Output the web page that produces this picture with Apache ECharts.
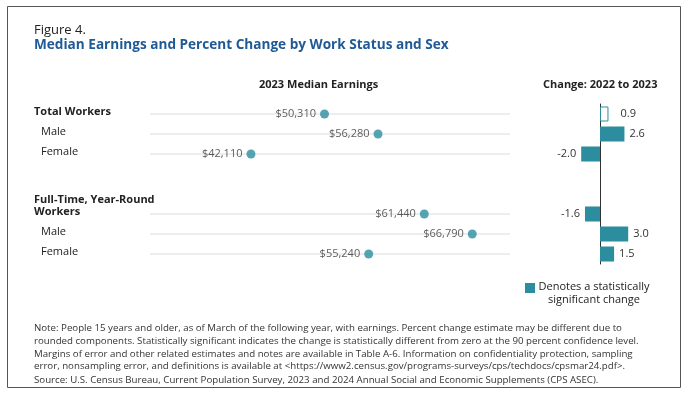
<!DOCTYPE html>
<html>
<head>
<meta charset="utf-8">
<script src="https://cdn.jsdelivr.net/npm/echarts@6/dist/echarts.min.js"></script>
<style>
html,body{margin:0;padding:0;background:#fff;}
#chart{width:688px;height:400px;}
</style>
</head>
<body>
<div id="chart"></div>
<script>
// ---- Data ----
const categories = ['Total Workers', 'Male', 'Female', '', ' ', 'Full-Time, Year-Round\nWorkers', 'Male', 'Female'];
const groupHeaders = [0, 5];
const earnings2023 = [50310, 56280, 42110, null, null, 61440, 66790, 55240];
const pctChange = [0.9, 2.6, -2.0, null, null, -1.6, 3.0, 1.5];
const significant = [false, true, true, null, null, true, true, true];

const TEAL = '#2b8d9d';
const FONT = '"Open Sans", "Noto Sans", sans-serif';

const chart = echarts.init(document.getElementById('chart'), null, {renderer: 'canvas'});

const dotData = earnings2023.map((v, i) => v == null ? null : [v, i]);
const lineData = earnings2023.map((v, i) => v == null ? null : [v, i]).filter(d => d);
const barData = pctChange.map((v, i) => {
  if (v == null) return null;
  const sig = significant[i];
  return {
    value: v,
    itemStyle: sig ? {color: TEAL} : {color: '#fff', borderColor: TEAL, borderWidth: 1},
    label: {position: v < 0 ? 'left' : 'right', distance: sig ? 5 : 12}
  };
});

const option = {
  animation: false,
  textStyle: {fontFamily: FONT},
  title: [
    {text: 'Figure 4.', left: 34, top: 24, padding: 0,
     textStyle: {fontFamily: FONT, fontSize: 13, fontWeight: 'normal', color: '#222'}},
    {text: 'Median Earnings and Percent Change by Work Status and Sex', left: 34, top: 38, padding: 0,
     textStyle: {fontFamily: FONT, fontSize: 13.6, fontWeight: 'bold', color: '#1f5a96'}},
    {text: '2023 Median Earnings', left: 259, top: 79, padding: 0,
     textStyle: {fontFamily: FONT, fontSize: 11, fontWeight: 'bold', color: '#222'}},
    {text: 'Change: 2022 to 2023', left: 543, top: 79, padding: 0,
     textStyle: {fontFamily: FONT, fontSize: 11, fontWeight: 'bold', color: '#222'}},
    {text: 'Note: People 15 years and older, as of March of the following year, with earnings. Percent change estimate may be different due to\nrounded components. Statistically significant indicates the change is statistically different from zero at the 90 percent confidence level.\nMargins of error and other related estimates and notes are available in Table A-6. Information on confidentiality protection, sampling\nerror, nonsampling error, and definitions is available at <https://www2.census.gov/programs-surveys/cps/techdocs/cpsmar24.pdf>.',
     left: 34, top: 322, padding: 0,
     textStyle: {fontFamily: FONT, fontSize: 9.7, fontWeight: 'normal', color: '#333', lineHeight: 12.7}},
    {text: 'Source: U.S. Census Bureau, Current Population Survey, 2023 and 2024 Annual Social and Economic Supplements (CPS ASEC).',
     left: 34, top: 375, padding: 0,
     textStyle: {fontFamily: FONT, fontSize: 9.7, fontWeight: 'normal', color: '#333'}}
  ],
  grid: [
    {left: 150, width: 360, top: 104, height: 160},
    {left: 553, width: 94, top: 104, height: 160},
    {left: 150, width: 360, top: 108, height: 160}
  ],
  xAxis: [
    {gridIndex: 0, type: 'value', min: 30850, max: 71000, show: false},
    {gridIndex: 1, type: 'value', min: -5, max: 5, show: false},
    {gridIndex: 2, type: 'value', min: 0, max: 1, show: false}
  ],
  yAxis: [
    {gridIndex: 0, type: 'category', data: categories, inverse: true, show: false},
    {gridIndex: 1, type: 'category', data: categories, inverse: true,
     axisLine: {show: true, onZero: true, lineStyle: {color: '#333', width: 1}},
     axisTick: {show: false}, axisLabel: {show: false}, splitLine: {show: false}},
    {gridIndex: 2, type: 'category', data: categories, inverse: true,
     axisLine: {show: false}, axisTick: {show: false}, splitLine: {show: false},
     axisLabel: {
       show: true, interval: 0, align: 'left', margin: 116, verticalAlign: 'bottom',
       lineHeight: 12,
       formatter: (v, i) => {
         if (!v.trim()) return '';
         if (groupHeaders.indexOf(i) >= 0) return v.split('\n').map(s => '{h|' + s + '}').join('\n');
         return '{s|' + v + '}';
       },
       rich: {
         h: {fontFamily: FONT, fontSize: 11, fontWeight: 'bold', color: '#222', lineHeight: 12},
         s: {fontFamily: FONT, fontSize: 11, color: '#222', lineHeight: 12, padding: [0, 0, 0, 7]}
       }
     }}
  ],
  series: [
    {
      type: 'custom', xAxisIndex: 0, yAxisIndex: 0, z: 1, silent: true,
      data: lineData,
      renderItem: (params, api) => {
        const cs = params.coordSys;
        const y = api.coord([api.value(0), api.value(1)])[1];
        return {
          type: 'line',
          shape: {x1: cs.x, y1: y, x2: cs.x + cs.width, y2: y},
          style: {stroke: '#dcdcdc', lineWidth: 1}
        };
      }
    },
    {
      type: 'scatter', xAxisIndex: 0, yAxisIndex: 0, z: 3,
      symbol: 'circle', symbolSize: 9,
      itemStyle: {color: TEAL},
      data: dotData,
      label: {
        show: true, position: 'left', distance: 4,
        fontFamily: FONT, fontSize: 11, color: '#333',
        formatter: p => '$' + p.value[0].toLocaleString('en-US')
      }
    },
    {
      type: 'bar', name: 'Change: 2022 to 2023', xAxisIndex: 1, yAxisIndex: 1,
      barWidth: 15,
      data: barData,
      label: {
        show: true, fontFamily: FONT, fontSize: 11, color: '#333',
        formatter: p => Number(p.value).toFixed(1)
      }
    }
  ],
  graphic: [
    {type: 'rect', silent: true, shape: {x: 7.5, y: 6.5, width: 673, height: 381},
     style: {fill: 'none', stroke: '#555', lineWidth: 1}},
    {type: 'rect', silent: true, shape: {x: 525, y: 283, width: 10, height: 10},
     style: {fill: TEAL}},
    {type: 'text', silent: true, x: 594, y: 281,
     style: {text: 'Denotes a statistically\nsignificant change', align: 'center', verticalAlign: 'top',
             fontFamily: FONT, fontSize: 11, lineHeight: 12.5, fill: '#222'}}
  ]
};

chart.setOption(option);
</script>
</body>
</html>
